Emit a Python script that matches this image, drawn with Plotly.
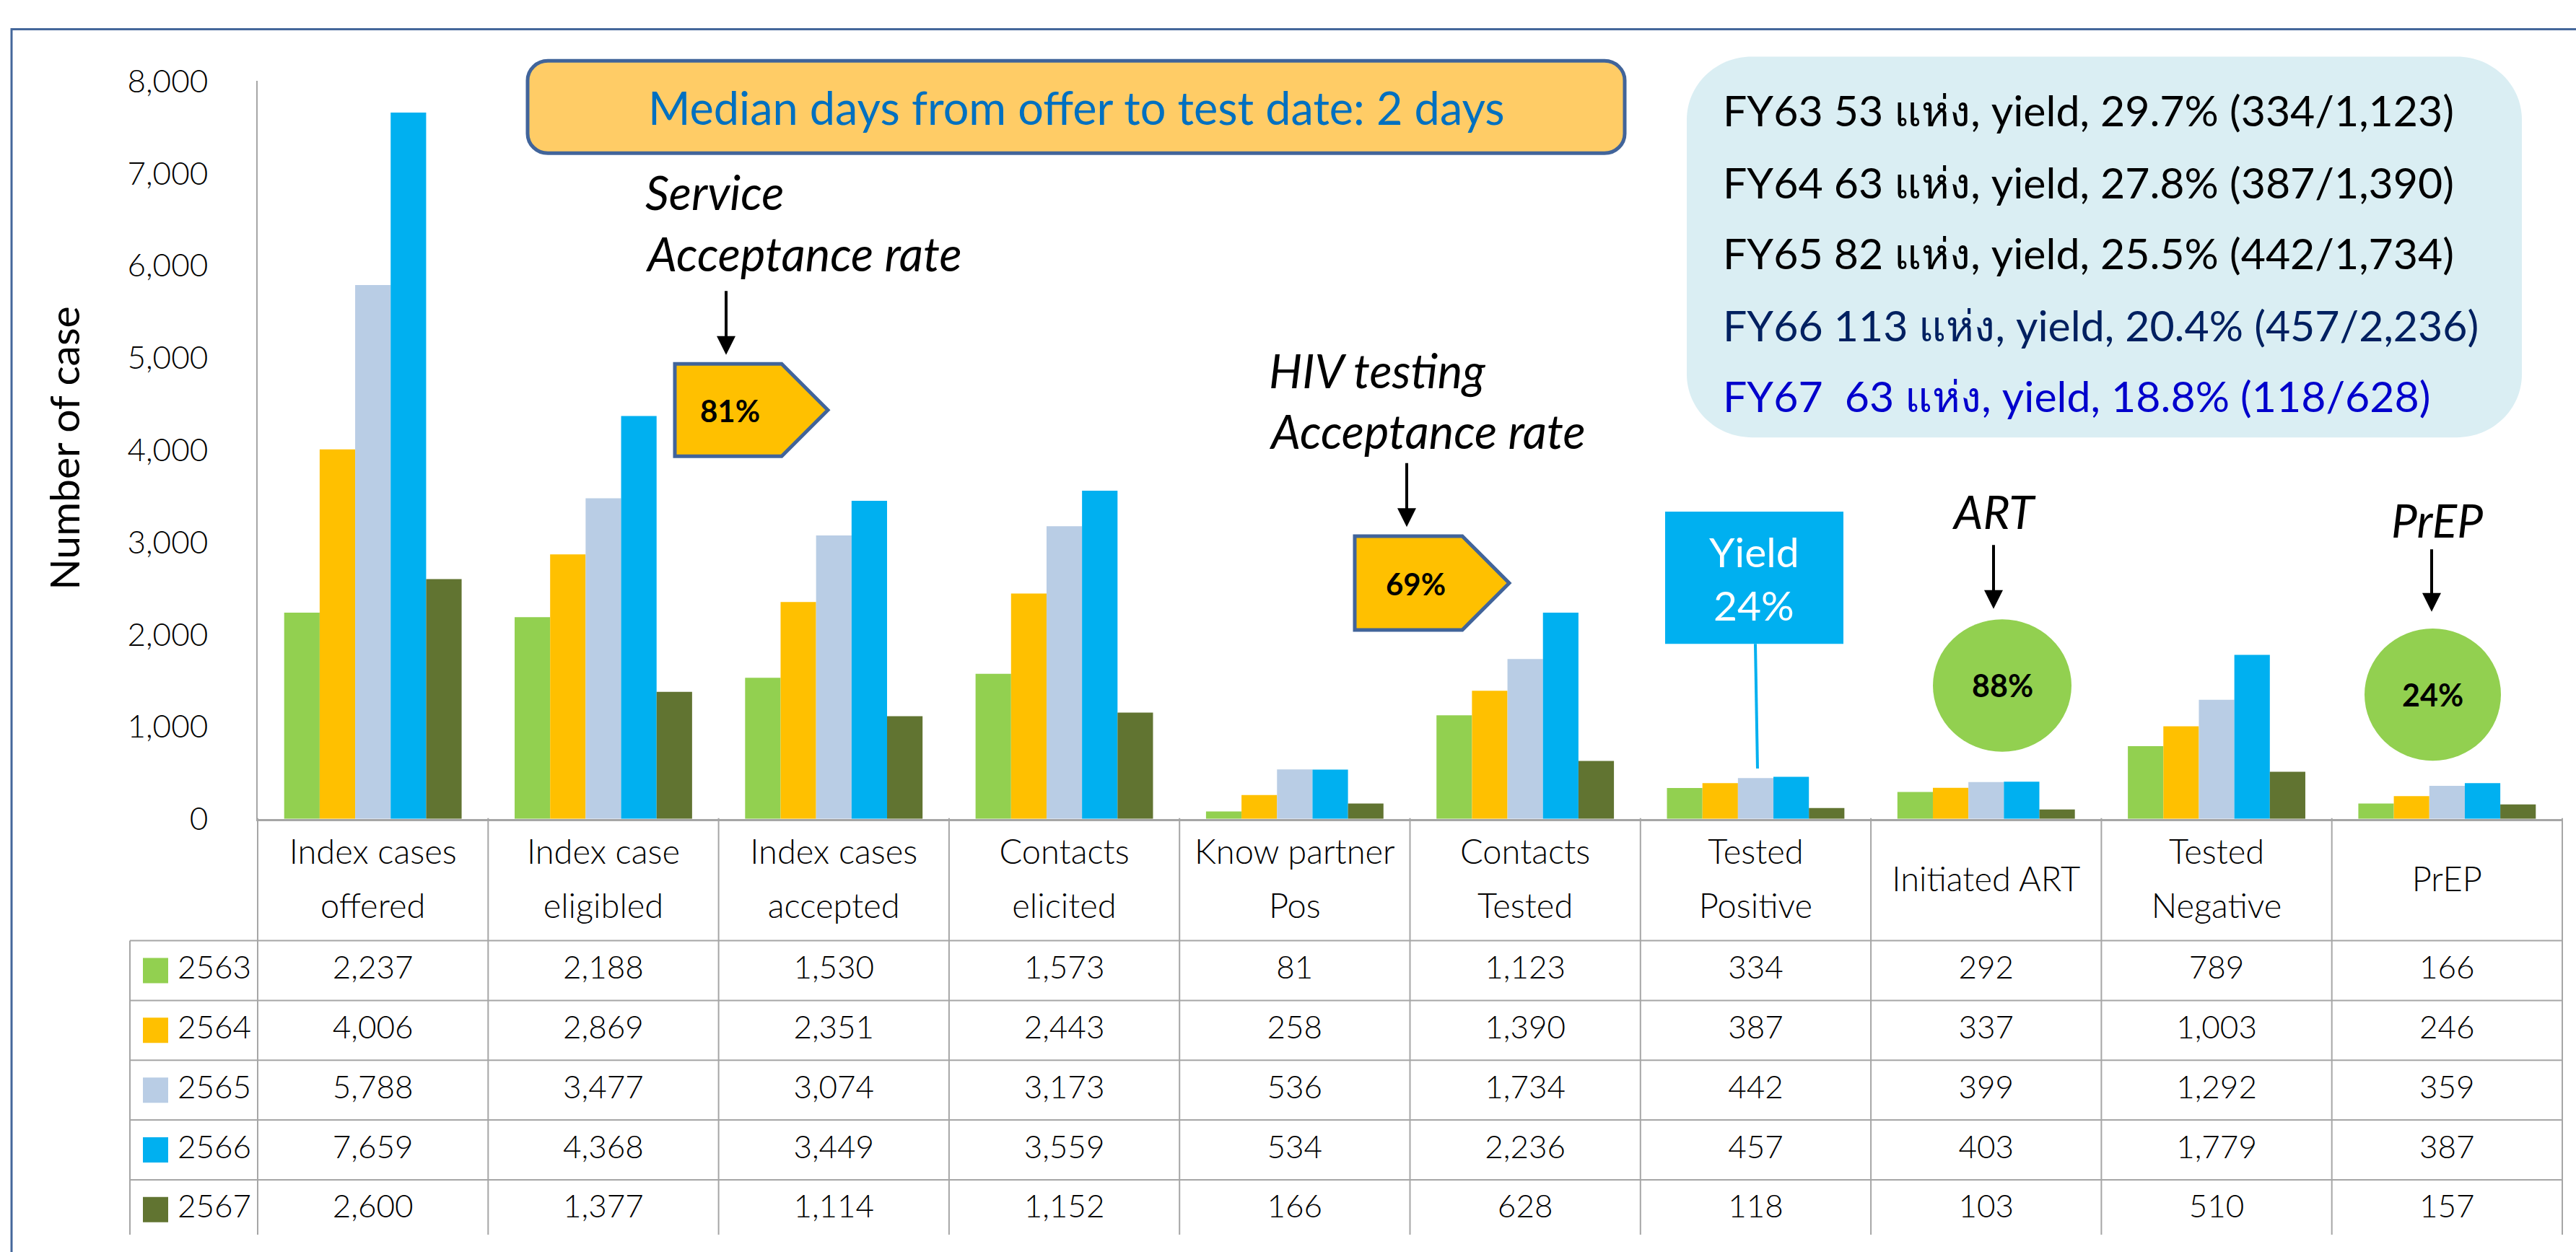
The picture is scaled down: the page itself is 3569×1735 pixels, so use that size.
import plotly.graph_objects as go

# ---------------- data ----------------
categories = ["Index cases offered", "Index case eligibled", "Index cases accepted",
              "Contacts elicited", "Know partner Pos", "Contacts Tested",
              "Tested Positive", "Initiated ART", "Tested Negative", "PrEP"]
header_lines = [["Index cases", "offered"], ["Index case", "eligibled"], ["Index cases", "accepted"],
                ["Contacts", "elicited"], ["Know partner", "Pos"], ["Contacts", "Tested"],
                ["Tested", "Positive"], ["Initiated ART"], ["Tested", "Negative"], ["PrEP"]]
years = ["2563", "2564", "2565", "2566", "2567"]
v2563 = [2237, 2188, 1530, 1573, 81, 1123, 334, 292, 789, 166]
v2564 = [4006, 2869, 2351, 2443, 258, 1390, 387, 337, 1003, 246]
v2565 = [5788, 3477, 3074, 3173, 536, 1734, 442, 399, 1292, 359]
v2566 = [7659, 4368, 3449, 3559, 534, 2236, 457, 403, 1779, 387]
v2567 = [2600, 1377, 1114, 1152, 166, 628, 118, 103, 510, 157]
series = [v2563, v2564, v2565, v2566, v2567]
colors = ["#92D050", "#FFC000", "#B9CDE5", "#00B0F0", "#617431"]
y_ticks = [0, 1000, 2000, 3000, 4000, 5000, 6000, 7000, 8000]

info_lines = ["FY63 53 แห่ง, yield, 29.7% (334/1,123)",
              "FY64 63 แห่ง, yield, 27.8% (387/1,390)",
              "FY65 82 แห่ง, yield, 25.5% (442/1,734)",
              "FY66 113 แห่ง, yield, 20.4% (457/2,236)",
              "FY67\u00a0 63 แห่ง, yield, 18.8% (118/628)"]
info_colors = ["#000000", "#000000", "#000000", "#002060", "#0000CC"]

# ---------------- geometry helpers (pixels) ----------------
W, H = 3569, 1735
def PX(x): return x / W
def PY(y): return 1 - y / H

CAT_W = 319.3
CAT0 = 357 + CAT_W / 2
ROW_H = 85.4
TAB_TOP = 1140
def tx(p): return (p - CAT0) / CAT_W
def ty(p): return (p - TAB_TOP) / ROW_H

FONT = "Lato"
fig = go.Figure()

# bars
for yr, vals, col in zip(years, series, colors):
    fig.add_trace(go.Bar(x=categories, y=vals, name=yr, marker=dict(color=col, line=dict(width=0)),
                         xaxis="x", yaxis="y", hoverinfo="x+y+name"))

# ---------------- table ----------------
hx, hy, ht = [], [], []
for i, lines in enumerate(header_lines):
    if len(lines) == 2:
        for ln, yy in zip(lines, [1193, 1270]):
            hx.append(i); hy.append(ty(yy)); ht.append(ln)
    else:
        hx.append(i); hy.append(ty(1232)); ht.append(lines[0])
fig.add_trace(go.Scatter(x=hx, y=hy, text=ht, mode="text", xaxis="x2", yaxis="y2",
                         textfont=dict(family=FONT, size=47, color="black", weight=300),
                         hoverinfo="skip", cliponaxis=False))

row0 = ty(1315)
dx, dy, dt = [], [], []
for r, vals in enumerate(series):
    for c, v in enumerate(vals):
        dx.append(c); dy.append(row0 + r + 0.5); dt.append(f"{v:,}")
fig.add_trace(go.Scatter(x=dx, y=dy, text=dt, mode="text", xaxis="x2", yaxis="y2",
                         textfont=dict(family=FONT, size=44, color="black", weight=300),
                         hoverinfo="skip", cliponaxis=False))

# legend column: squares + years
fig.add_trace(go.Scatter(x=[tx(215.5)] * 5, y=[row0 + r + 0.5 for r in range(5)], mode="markers",
                         marker=dict(symbol="square", size=35, color=colors, line=dict(width=0)),
                         xaxis="x2", yaxis="y2", hoverinfo="skip", cliponaxis=False))
fig.add_trace(go.Scatter(x=[tx(246)] * 5, y=[row0 + r + 0.5 for r in range(5)], text=years,
                         mode="text", textposition="middle right", xaxis="x2", yaxis="y2",
                         textfont=dict(family=FONT, size=44, color="black", weight=300),
                         hoverinfo="skip", cliponaxis=False))

shapes = []
GRID = "#A6A6A6"
ybot = ty(1800)
for k in range(11):
    shapes.append(dict(type="line", xref="x2", yref="y2", x0=k - 0.5, x1=k - 0.5, y0=0, y1=ybot,
                       line=dict(color=GRID, width=2)))
shapes.append(dict(type="line", xref="x2", yref="y2", x0=tx(180), x1=tx(180), y0=row0, y1=ybot,
                   line=dict(color=GRID, width=2)))
for r in range(6):
    shapes.append(dict(type="line", xref="x2", yref="y2", x0=tx(180), x1=9.5, y0=row0 + r, y1=row0 + r,
                       line=dict(color=GRID, width=2)))

# ---------------- decorations ----------------
def rrect_path(x0, y0, x1, y1, r):
    k = 0.5523 * r
    pts = [("M", [(x0 + r, y0)]), ("L", [(x1 - r, y0)]),
           ("C", [(x1 - r + k, y0), (x1, y0 + r - k), (x1, y0 + r)]),
           ("L", [(x1, y1 - r)]),
           ("C", [(x1, y1 - r + k), (x1 - r + k, y1), (x1 - r, y1)]),
           ("L", [(x0 + r, y1)]),
           ("C", [(x0 + r - k, y1), (x0, y1 - r + k), (x0, y1 - r)]),
           ("L", [(x0, y0 + r)]),
           ("C", [(x0, y0 + r - k), (x0 + r - k, y0), (x0 + r, y0)])]
    s = ""
    for cmd, ps in pts:
        s += cmd + " ".join(f"{PX(a):.6f},{PY(b):.6f}" for a, b in ps) + " "
    return s + "Z"

def poly_path(pts):
    return "M" + " L".join(f"{PX(a):.6f},{PY(b):.6f}" for a, b in pts) + " Z"

# frame
shapes.append(dict(type="rect", xref="paper", yref="paper", x0=PX(16), x1=PX(W + 60), y0=PY(13), y1=PY(H + 60),
                   line=dict(color="#44679B", width=3), fillcolor="rgba(0,0,0,0)"))
# median box
shapes.append(dict(type="path", xref="paper", yref="paper", path=rrect_path(731, 58, 2251, 190, 28),
                   fillcolor="#FFCC66", line=dict(color="#41649A", width=5)))
# info box
shapes.append(dict(type="path", xref="paper", yref="paper", path=rrect_path(2337, 52, 3494, 596, 90),
                   fillcolor="#DAEEF3", line=dict(width=0)))
# pentagons
for (x0, y0, xc, xt, y1) in [(935, 491, 1083, 1147, 623), (1877, 737, 2026, 2091, 871)]:
    ym = (y0 + y1) / 2
    shapes.append(dict(type="path", xref="paper", yref="paper",
                       path=poly_path([(x0, y0), (xc, y0), (xt, ym), (xc, y1), (x0, y1)]),
                       fillcolor="#FFC000", line=dict(color="#41649A", width=5)))
# yield callout
shapes.append(dict(type="rect", xref="paper", yref="paper", x0=PX(2307), x1=PX(2554), y0=PY(891), y1=PY(702),
                   fillcolor="#00B0F0", line=dict(width=0)))
shapes.append(dict(type="line", xref="paper", yref="paper", x0=PX(2432), x1=PX(2435), y0=PY(891), y1=PY(1069),
                   line=dict(color="#00B0F0", width=4)))
# ellipses
for (x0, y0, x1, y1) in [(2678, 856, 2870, 1045), (3276, 869, 3465, 1058)]:
    shapes.append(dict(type="circle", xref="paper", yref="paper", x0=PX(x0), x1=PX(x1), y0=PY(y1), y1=PY(y0),
                       fillcolor="#92D050", line=dict(width=0)))

ann = []
def text(x, y, t, size, color="black", xanchor="center", style="normal", weight="normal", angle=0):
    ann.append(dict(x=PX(x), y=PY(y), xref="paper", yref="paper", text=t, showarrow=False,
                    xanchor=xanchor, yanchor="middle", textangle=angle,
                    font=dict(family=FONT, size=size, color=color, style=style, weight=weight)))

def arrow(x, ytip, ytail):
    ann.append(dict(x=PX(x), y=PY(ytip), xref="paper", yref="paper", text="", showarrow=True,
                    ax=0, ay=-(ytip - ytail), arrowhead=2, arrowsize=1.3, arrowwidth=4,
                    arrowcolor="black", standoff=0))

text(88, 612, "Number of case", 57, angle=-90)
text(1491, 124, "Median days from offer to test date: 2 days", 63, color="#0070C0")
text(892, 245, "Service", 65, xanchor="left", style="italic")
text(892, 333, "Acceptance rate", 65, xanchor="left", style="italic")
arrow(1006, 478, 388)
text(1011, 558, "81%", 42, weight="bold")
text(1756, 500, "HIV testing", 65, xanchor="left", style="italic")
text(1756, 587, "Acceptance rate", 65, xanchor="left", style="italic")
arrow(1949, 724, 634)
text(1961, 805, "69%", 42, weight="bold")
text(2430, 759, "Yield", 57, color="white")
text(2430, 835, "24%", 57, color="white")
text(2762, 702, "ART", 64, style="italic")
arrow(2762, 841, 751)
text(2774, 950, "88%", 43, weight="bold")
text(3376, 714, "PrEP", 64, style="italic")
arrow(3369, 845, 757)
text(3370, 963, "24%", 43, weight="bold")
for t, c, yy in zip(info_lines, info_colors, [128, 231, 332, 436, 537]):
    text(2385, yy, t, 59, color=c, xanchor="left")

fig.update_layout(
    width=W, height=H, autosize=False,
    margin=dict(l=0, r=0, t=0, b=0, pad=0),
    paper_bgcolor="white", plot_bgcolor="rgba(0,0,0,0)",
    showlegend=False, barmode="group", bargap=0.23, bargroupgap=0,
    font=dict(family=FONT, color="black"),
    xaxis=dict(domain=[PX(357), PX(3550)], type="category", range=[-0.5, 9.5], showticklabels=False,
               showline=True, linecolor=GRID, linewidth=3, ticks="", showgrid=False, zeroline=False,
               anchor="y"),
    yaxis=dict(domain=[PY(1141), PY(87)], range=[0, 8000], tickvals=y_ticks, tickformat=",",
               showline=True, linecolor=GRID, linewidth=2, showgrid=False, zeroline=False, ticks="",
               ticklabelstandoff=58, tickfont=dict(family=FONT, size=44, color="black", weight=300),
               anchor="x"),
    xaxis2=dict(domain=[PX(170), PX(3560)], range=[tx(170), tx(3560)], visible=False, anchor="y2"),
    yaxis2=dict(domain=[0, PY(1138)], range=[ty(1735), ty(1138)], visible=False, anchor="x2"),
    shapes=shapes, annotations=ann,
)

fig.write_html("out.html", config={"displayModeBar": False},
               post_script="document.body.style.margin='0';document.body.style.overflow='hidden';")
